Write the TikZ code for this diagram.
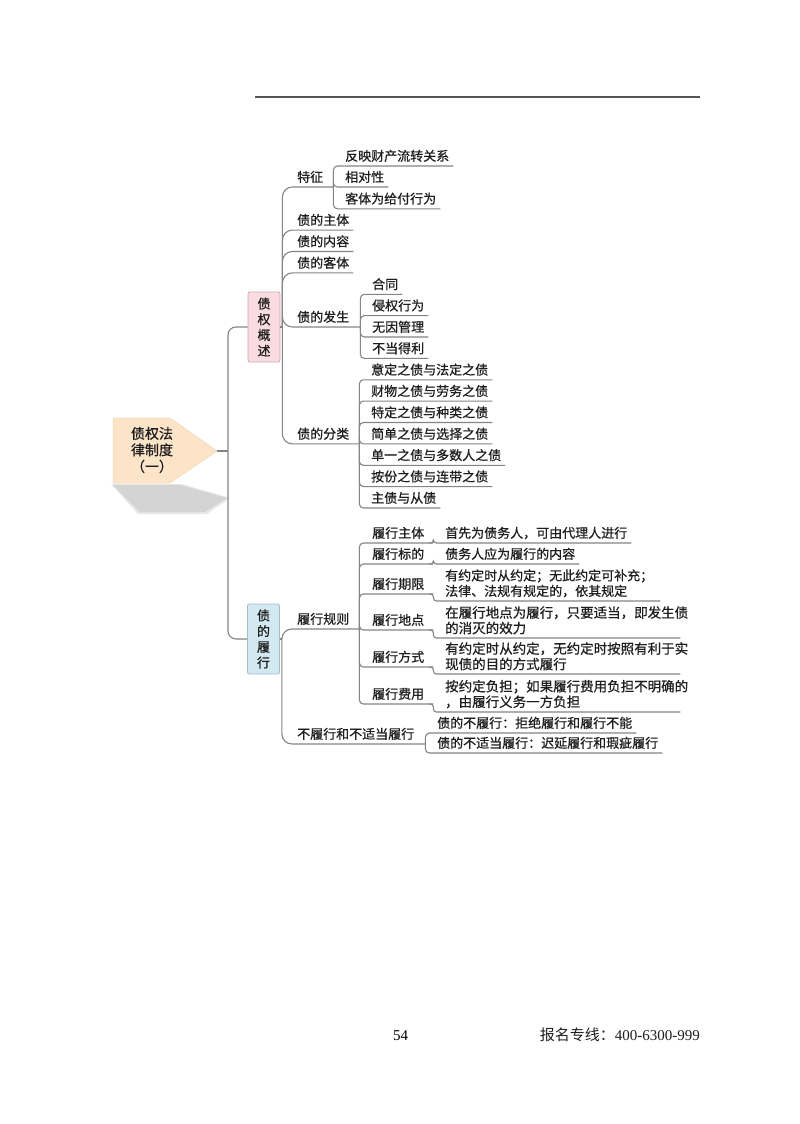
\documentclass[tikz,border=0pt]{standalone}
\usepackage{fontspec}
\setmainfont{Liberation Serif}
\newfontfamily\cjk{Noto Sans CJK SC}[FakeBold=0.7]
\newfontfamily\cjkplain{Noto Sans CJK SC}
\usetikzlibrary{calc}
\definecolor{linegray}{HTML}{858585}
\definecolor{textc}{HTML}{1E1E1E}
\definecolor{pinkfill}{HTML}{F9DCE2}
\definecolor{pinkdraw}{HTML}{D2A8B0}
\definecolor{bluefill}{HTML}{D3E9F2}
\definecolor{bluedraw}{HTML}{A0BECA}
\definecolor{peach}{HTML}{FCE4C9}
\definecolor{shadowc}{HTML}{D4D4D4}
\definecolor{rulec}{HTML}{555555}
\tikzset{
  ln/.style={draw=linegray, line width=1.1pt},
  lb0/.style={anchor=south west, inner xsep=4pt, inner ysep=3.5pt, text=textc,
    font=\cjk\fontsize{13}{15.5}\selectfont},
  lbl/.style={lb0, text depth=1.5pt},
  ml/.style={lb0, align=left},
  boxa/.style={draw=pinkdraw, fill=pinkfill, rounded corners=2pt, line width=0.8pt,
    minimum width=32pt, minimum height=70pt, inner sep=0pt, align=center, text=textc,
    font=\cjk\fontsize{13}{15.7}\selectfont},
  boxb/.style={boxa, draw=bluedraw, fill=bluefill},
}
\begin{document}
\begin{tikzpicture}[x=1pt,y=-1pt]
\fill[white] (0,0) rectangle (800,1124);
\useasboundingbox (0,0) rectangle (800,1124);
% top rule
\draw[rulec, line width=1.6pt] (255,97) -- (700,97);
% root
\fill[shadowc!55] (111,484) -- (182,484) -- (230,498) -- (207,514) -- (138,514) -- cycle;
\fill[shadowc] (113,485) -- (180,485) -- (227,498) -- (205,512) -- (140,512) -- cycle;
\filldraw[fill=peach, draw=peach!85!brown, line width=0.5pt] (113,418) -- (170,418) -- (217,451) -- (170,483) -- (113,483) -- cycle;
\node[align=center, text=textc, font=\cjk\fontsize{14}{16.5}\selectfont] (root) at (152,450) {债权法\\律制度\\（一）};
\coordinate (roottip) at (217,451);
\coordinate (trunk) at (228,451);
% level 1
\node[boxa] (A) at (264,327) {债\\权\\概\\述};
\node[boxb] (B) at (263.5,639) {债\\的\\履\\行};
\draw[ln] (roottip) -- (trunk);
\draw[ln, rounded corners=8pt] (trunk) |- (A.west);
\draw[ln, rounded corners=8pt] (trunk) |- (B.west);
% level 2 under A
\node[lbl, text width=32pt] (tz) at (293,187) {特征};
\node[lbl] (zt) at (293,230.1) {债的主体};
\node[lbl] (nr) at (293,251.5) {债的内容};
\node[lbl] (kt) at (293,272.9) {债的客体};
\node[lbl, text width=59pt] (fs) at (293,327) {债的发生};
\node[lbl, text width=58pt] (fl) at (293,443.9) {债的分类};
\draw[ln] (A.east) -- ++(2,0) coordinate (a0);
\foreach \c in {tz,zt,nr,kt,fs,fl}
  \draw[ln, rounded corners=10pt] (a0) |- (\c.south east);
% 特征 children
\node[lbl] (t1) at (341,166) {反映财产流转关系};
\node[lbl] (t2) at (341,187) {相对性};
\node[lbl] (t3) at (341,208.8) {客体为给付行为};
\foreach \c in {t1,t2,t3}
  \draw[ln, rounded corners=4pt] (tz.south east) |- (\c.south east);
% 债的发生 children
\node[lbl] (f1) at (368,294.3) {合同};
\node[lbl] (f2) at (368,315.6) {侵权行为};
\node[lbl] (f3) at (368,337) {无因管理};
\node[lbl] (f4) at (368,358.4) {不当得利};
\foreach \c in {f1,f2,f3,f4}
  \draw[ln, rounded corners=4pt] (fs.south east) |- (\c.south east);
% 债的分类 children
\node[lbl] (k1) at (367,379.8) {意定之债与法定之债};
\node[lbl] (k2) at (367,401.1) {财物之债与劳务之债};
\node[lbl] (k3) at (367,422.5) {特定之债与种类之债};
\node[lbl] (k4) at (367,443.9) {简单之债与选择之债};
\node[lbl] (k5) at (367,465.3) {单一之债与多数人之债};
\node[lbl] (k6) at (367,486.6) {按份之债与连带之债};
\node[lbl] (k7) at (367,508) {主债与从债};
\foreach \c in {k1,k2,k3,k4,k5,k6,k7}
  \draw[ln, rounded corners=4pt] (fl.south east) |- (\c.south east);
% level 2 under B
\node[lbl, text width=58pt] (gz) at (293,629) {履行规则};
\node[lbl, text width=124pt] (bl) at (293,744) {不履行和不适当履行};
\draw[ln] (B.east) -- ++(2,0) coordinate (b0);
\foreach \c in {gz,bl}
  \draw[ln, rounded corners=10pt] (b0) |- (\c.south east);
% 履行规则 children
\node[lbl, text width=57pt] (r1) at (368,543) {履行主体};
\node[lbl, text width=57pt] (r2) at (368,564) {履行标的};
\node[lbl, text width=57pt] (r3) at (368,594) {履行期限};
\node[lbl, text width=57pt] (r4) at (368,630) {履行地点};
\node[lbl, text width=57pt] (r5) at (368,667) {履行方式};
\node[lbl, text width=57pt] (r6) at (368,704) {履行费用};
\foreach \c in {r1,r2,r3,r4,r5,r6}
  \draw[ln, rounded corners=4pt] (gz.south east) |- (\c.south east);
% level 4
\node[lbl] (d1) at (441,543) {首先为债务人，可由代理人进行};
\node[lbl] (d2) at (441,564) {债务人应为履行的内容};
\node[ml, text width=211pt] (d3) at (441,601) {有约定时从约定；无此约定可补充；\\法律、法规有规定的，依其规定};
\node[ml, text width=231pt, font=\cjk\fontsize{13.5}{15.5}\selectfont] (d4) at (441,638) {在履行地点为履行，只要适当，即发生债\\的消灭的效力};
\node[ml, text width=231pt, font=\cjk\fontsize{13.5}{15.5}\selectfont] (d5) at (441,674) {有约定时从约定，无约定时按照有利于实\\现债的目的方式履行};
\node[ml, text width=231pt, font=\cjk\fontsize{13.5}{15.5}\selectfont] (d6) at (441,712) {按约定负担；如果履行费用负担不明确的\\，由履行义务一方负担};
\foreach \p/\c in {r1/d1,r2/d2,r3/d3,r4/d4,r5/d5,r6/d6}
  \draw[ln, rounded corners=3pt] ($(\p.south east)+(-4,0)$) -- (\p.south east) |- (\c.south east);
% 不履行 children
\node[lbl] (n1) at (433,733) {债的不履行：拒绝履行和履行不能};
\node[lbl] (n2) at (433,753) {债的不适当履行：迟延履行和瑕疵履行};
\foreach \c in {n1,n2}
  \draw[ln, rounded corners=4pt] (bl.south east) |- (\c.south east);
% footer
\node[anchor=base west, inner sep=0pt, text=black, font=\fontsize{15}{18}\selectfont] (pg) at (393,1040) {54};
\node[anchor=base east, inner sep=0pt, text=textc, font=\fontsize{15}{18}\selectfont] (tel) at (700,1040) {{\cjkplain 报名专线：}400-6300-999};
\end{tikzpicture}
\end{document}
